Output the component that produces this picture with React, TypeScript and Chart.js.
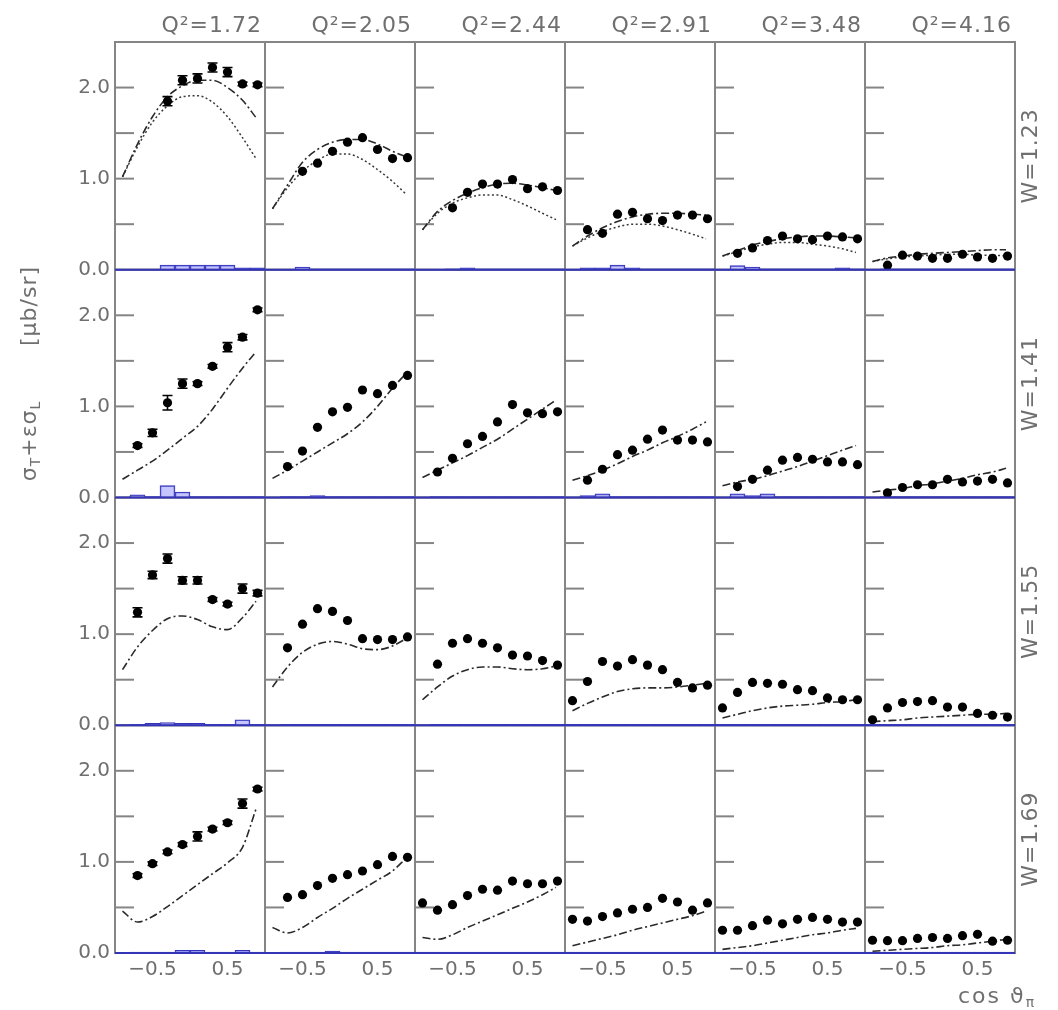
import { useEffect, useRef } from 'react';
import { Chart, registerables } from 'chart.js';

Chart.register(...registerables);

// ---------- axes / categories ----------
const Q2_VALUES = [1.72, 2.05, 2.44, 2.91, 3.48, 4.16];
const W_VALUES = [1.23, 1.41, 1.55, 1.69];
const COS_BINS = [-0.9, -0.7, -0.5, -0.3, -0.1, 0.1, 0.3, 0.5, 0.7, 0.9];
const CURVE_COS = [-0.9, -0.7, -0.5, -0.3, -0.1, 0.1, 0.3, 0.5, 0.7, 0.88];
const X_TICK_VALUES = [-0.5, 0.5];
const Y_TICK_MARKS = [0.5, 1.0, 1.5, 2.0];
const X_RANGE = [-1, 1];
const Y_RANGE = [0, 2.5];

// ---------- measured cross sections (one array per Q2 column) ----------
const SIGMA_W123 = [
  [null, null, null, 1.85, 2.08, 2.10, 2.22, 2.17, 2.04, 2.03],
  [null, null, 1.08, 1.17, 1.30, 1.40, 1.45, 1.32, 1.22, 1.23],
  [null, null, 0.68, 0.85, 0.94, 0.94, 0.99, 0.89, 0.91, 0.87],
  [null, 0.44, 0.40, 0.61, 0.63, 0.56, 0.54, 0.60, 0.60, 0.56],
  [null, 0.18, 0.24, 0.32, 0.37, 0.34, 0.33, 0.37, 0.36, 0.34],
  [null, 0.05, 0.16, 0.15, 0.125, 0.125, 0.17, 0.14, 0.125, 0.15],
];
const SIGMA_W141 = [
  [null, 0.57, 0.71, 1.04, 1.25, 1.25, 1.44, 1.65, 1.76, 2.06],
  [null, 0.34, 0.51, 0.77, 0.94, 0.99, 1.18, 1.14, 1.23, 1.34],
  [null, 0.28, 0.43, 0.59, 0.67, 0.83, 1.02, 0.93, 0.92, 0.94],
  [null, 0.19, 0.31, 0.47, 0.52, 0.64, 0.74, 0.63, 0.63, 0.61],
  [null, 0.12, 0.20, 0.30, 0.41, 0.44, 0.42, 0.39, 0.39, 0.36],
  [null, 0.05, 0.11, 0.14, 0.14, 0.20, 0.17, 0.18, 0.20, 0.16],
];
const SIGMA_W155 = [
  [null, 1.24, 1.65, 1.83, 1.59, 1.59, 1.38, 1.33, 1.50, 1.45],
  [null, 0.85, 1.11, 1.28, 1.25, 1.15, 0.95, 0.94, 0.94, 0.97],
  [null, 0.67, 0.90, 0.95, 0.90, 0.85, 0.77, 0.76, 0.71, 0.66],
  [0.27, 0.48, 0.70, 0.65, 0.72, 0.66, 0.61, 0.47, 0.41, 0.44],
  [0.19, 0.36, 0.47, 0.46, 0.45, 0.39, 0.38, 0.30, 0.28, 0.28],
  [0.06, 0.19, 0.25, 0.26, 0.27, 0.20, 0.20, 0.13, 0.11, 0.09],
];
const SIGMA_W169 = [
  [null, 0.85, 0.98, 1.11, 1.19, 1.28, 1.36, 1.43, 1.64, 1.80],
  [null, 0.61, 0.64, 0.74, 0.82, 0.86, 0.90, 0.97, 1.06, 1.05],
  [0.55, 0.47, 0.53, 0.63, 0.70, 0.69, 0.79, 0.76, 0.76, 0.79],
  [0.37, 0.35, 0.40, 0.44, 0.48, 0.50, 0.60, 0.56, 0.47, 0.55],
  [0.25, 0.25, 0.30, 0.36, 0.32, 0.37, 0.39, 0.37, 0.34, 0.34],
  [0.14, 0.135, 0.135, 0.16, 0.17, 0.16, 0.19, 0.205, 0.13, 0.14],
];

// statistical errors visible in the Q2=1.72 column (one row per W)
const ERR_Q172 = [
  [0, 0, 0, 0.05, 0.05, 0.05, 0.05, 0.05, 0.02, 0.02],
  [0, 0.02, 0.04, 0.08, 0.05, 0.02, 0.02, 0.05, 0.03, 0.02],
  [0, 0.05, 0.04, 0.05, 0.04, 0.04, 0.02, 0.02, 0.05, 0.03],
  [0, 0.02, 0.02, 0.02, 0.02, 0.05, 0.02, 0.02, 0.05, 0.02],
];

// ---------- model curves (dash-dot), sampled at CURVE_COS ----------
const MODEL_W123 = [
  [1.02, 1.38, 1.68, 1.90, 2.02, 2.08, 2.08, 2.00, 1.86, 1.67],
  [0.67, 0.93, 1.18, 1.32, 1.40, 1.43, 1.43, 1.38, 1.30, 1.24],
  [0.44, 0.64, 0.76, 0.84, 0.90, 0.94, 0.95, 0.93, 0.90, 0.87],
  [0.26, 0.37, 0.46, 0.53, 0.58, 0.61, 0.62, 0.62, 0.61, 0.60],
  [0.15, 0.21, 0.27, 0.31, 0.34, 0.36, 0.37, 0.37, 0.36, 0.35],
  [0.09, 0.13, 0.15, 0.17, 0.18, 0.19, 0.20, 0.21, 0.22, 0.22],
];
const MODEL_W141 = [
  [0.20, 0.30, 0.40, 0.52, 0.65, 0.78, 0.97, 1.20, 1.42, 1.60],
  [0.21, 0.30, 0.40, 0.50, 0.60, 0.70, 0.83, 1.00, 1.20, 1.36],
  [0.22, 0.30, 0.38, 0.46, 0.55, 0.64, 0.75, 0.86, 0.97, 1.07],
  [0.19, 0.24, 0.30, 0.37, 0.45, 0.52, 0.60, 0.67, 0.75, 0.83],
  [0.13, 0.17, 0.20, 0.24, 0.29, 0.34, 0.40, 0.46, 0.52, 0.57],
  [0.06, 0.08, 0.10, 0.13, 0.15, 0.18, 0.21, 0.25, 0.28, 0.32],
];
const MODEL_W155 = [
  [0.61, 0.86, 1.04, 1.17, 1.20, 1.16, 1.08, 1.05, 1.18, 1.36],
  [0.42, 0.64, 0.80, 0.89, 0.92, 0.89, 0.84, 0.83, 0.87, 0.95],
  [0.28, 0.42, 0.54, 0.61, 0.64, 0.64, 0.62, 0.61, 0.62, 0.65],
  [0.16, 0.24, 0.31, 0.37, 0.40, 0.41, 0.41, 0.42, 0.44, 0.46],
  [0.08, 0.12, 0.16, 0.19, 0.21, 0.22, 0.23, 0.25, 0.26, 0.28],
  [0.04, 0.05, 0.06, 0.08, 0.09, 0.10, 0.11, 0.12, 0.12, 0.13],
];
const MODEL_W169 = [
  [0.46, 0.34, 0.40, 0.51, 0.63, 0.75, 0.87, 0.99, 1.16, 1.58],
  [0.28, 0.22, 0.28, 0.39, 0.49, 0.60, 0.70, 0.80, 0.90, 1.04],
  [0.17, 0.15, 0.20, 0.28, 0.35, 0.42, 0.49, 0.56, 0.64, 0.72],
  [0.08, 0.12, 0.16, 0.20, 0.25, 0.29, 0.33, 0.37, 0.41, 0.46],
  [0.04, 0.06, 0.08, 0.11, 0.14, 0.17, 0.20, 0.22, 0.25, 0.27],
  [0.02, 0.03, 0.04, 0.05, 0.06, 0.08, 0.09, 0.11, 0.13, 0.15],
];
// second model (dotted), only drawn for W=1.23
const MODEL2_W123 = [
  [1.02, 1.35, 1.62, 1.80, 1.90, 1.91, 1.84, 1.68, 1.45, 1.22],
  [0.67, 0.90, 1.08, 1.20, 1.27, 1.27, 1.21, 1.10, 0.97, 0.83],
  [0.44, 0.62, 0.73, 0.79, 0.82, 0.82, 0.77, 0.70, 0.62, 0.55],
  [0.26, 0.35, 0.42, 0.47, 0.50, 0.50, 0.48, 0.44, 0.39, 0.34],
  [0.15, 0.20, 0.25, 0.28, 0.30, 0.30, 0.28, 0.26, 0.23, 0.19],
  [0.09, 0.12, 0.14, 0.15, 0.16, 0.17, 0.17, 0.16, 0.16, 0.15],
];

// ---------- systematic uncertainties (blue histograms) ----------
const SYST_W123 = [
  [null, null, null, 0.05, 0.05, 0.05, 0.05, 0.05, 0.02, 0.02],
  [null, null, 0.03, 0.01, 0.01, 0.01, 0.01, 0.01, 0.01, 0.01],
  [null, null, 0.01, 0.02, 0.01, 0.01, 0.01, 0.01, 0.01, 0.01],
  [null, 0.02, 0.02, 0.05, 0.02, 0.01, 0.01, 0.01, 0.01, 0.01],
  [null, 0.045, 0.03, 0.01, 0.01, 0.01, 0.01, 0.01, 0.02, 0.01],
  [null, 0.01, 0.01, 0.01, 0.01, 0.01, 0.01, 0.01, 0.01, 0.01],
];
const SYST_W141 = [
  [null, 0.03, 0.01, 0.13, 0.06, 0.01, 0.01, 0.01, 0.01, 0.01],
  [null, 0.01, 0.01, 0.02, 0.01, 0.01, 0.01, 0.01, 0.01, 0.01],
  [null, 0.01, 0.01, 0.01, 0.01, 0.01, 0.01, 0.01, 0.01, 0.01],
  [null, 0.02, 0.04, 0.01, 0.01, 0.01, 0.01, 0.01, 0.01, 0.01],
  [null, 0.04, 0.02, 0.04, 0.01, 0.01, 0.01, 0.01, 0.01, 0.01],
  [null, 0.01, 0.01, 0.01, 0.01, 0.01, 0.01, 0.01, 0.01, 0.01],
];
const SYST_W155 = [
  [null, 0.01, 0.02, 0.03, 0.02, 0.02, 0.01, 0.01, 0.06, 0.01],
  [null, 0.01, 0.01, 0.01, 0.01, 0.01, 0.01, 0.01, 0.01, 0.01],
  [null, 0.01, 0.01, 0.01, 0.01, 0.01, 0.01, 0.01, 0.01, 0.01],
  [0.01, 0.01, 0.01, 0.01, 0.01, 0.01, 0.01, 0.01, 0.01, 0.01],
  [0.01, 0.01, 0.01, 0.01, 0.01, 0.01, 0.01, 0.01, 0.01, 0.01],
  [0.01, 0.01, 0.01, 0.01, 0.01, 0.01, 0.01, 0.01, 0.01, 0.01],
];
const SYST_W169 = [
  [null, 0.01, 0.01, 0.01, 0.03, 0.03, 0.01, 0.01, 0.03, 0.01],
  [null, 0.01, 0.01, 0.01, 0.02, 0.01, 0.01, 0.01, 0.01, 0.01],
  [0.01, 0.01, 0.01, 0.01, 0.01, 0.01, 0.01, 0.01, 0.01, 0.01],
  [0.01, 0.01, 0.01, 0.01, 0.01, 0.01, 0.01, 0.01, 0.01, 0.01],
  [0.01, 0.01, 0.01, 0.01, 0.01, 0.01, 0.01, 0.01, 0.01, 0.01],
  [0.01, 0.01, 0.01, 0.01, 0.01, 0.01, 0.01, 0.01, 0.01, 0.01],
];

const SIGMA = [SIGMA_W123, SIGMA_W141, SIGMA_W155, SIGMA_W169];
const MODEL = [MODEL_W123, MODEL_W141, MODEL_W155, MODEL_W169];
const SYST = [SYST_W123, SYST_W141, SYST_W155, SYST_W169];

// ---------- styling ----------
const FONT = '"DejaVu Sans", "Liberation Sans", sans-serif';
const TEXT_GRAY = '#6f6f6f';
const FRAME_GRAY = '#858585';
const BLUE = '#3434b8';

function fmtY(v: number) {
  return Math.abs(v - Math.round(v)) < 1e-6 ? Number(v).toFixed(1) : '';
}
function fmtX(v: number) {
  return v < 0 ? '\u2212' + Math.abs(v).toFixed(1) : v.toFixed(1);
}

function buildDatasets() {
  const ds: any[] = [];
  W_VALUES.forEach((_, r) => {
    Q2_VALUES.forEach((__, c) => {
      const xAxisID = 'x' + c;
      const yAxisID = 'y' + r;
      const pts = COS_BINS.map((x, i) => ({ x, y: SIGMA[r][c][i] })).filter((p) => p.y !== null);
      ds.push({
        type: 'scatter', xAxisID, yAxisID, data: pts, order: 0,
        pointRadius: 4.6, pointHoverRadius: 4.6, pointBackgroundColor: '#000',
        pointBorderWidth: 0, showLine: false,
      });
      ds.push({
        type: 'line', xAxisID, yAxisID, order: 1,
        data: CURVE_COS.map((x, i) => ({ x, y: MODEL[r][c][i] })),
        borderColor: '#2a2a2a', borderWidth: 1.6, borderDash: [8, 3, 2, 3],
        pointRadius: 0, cubicInterpolationMode: 'monotone', fill: false,
      });
      if (r === 0) {
        ds.push({
          type: 'line', xAxisID, yAxisID, order: 1,
          data: CURVE_COS.map((x, i) => ({ x, y: MODEL2_W123[c][i] })),
          borderColor: '#3a3a3a', borderWidth: 1.5, borderDash: [2, 2.5],
          pointRadius: 0, cubicInterpolationMode: 'monotone', fill: false,
        });
      }
      const bars = COS_BINS.map((x, i) => ({ x, y: SYST[r][c][i] })).filter((p) => p.y !== null);
      ds.push({
        type: 'bar', xAxisID, yAxisID, order: 2, data: bars,
        grouped: false, barPercentage: 1, categoryPercentage: 1,
        backgroundColor: 'rgba(150,150,255,0.55)', borderColor: BLUE, borderWidth: 1,
      });
    });
  });
  return ds;
}

function buildScales() {
  const scales: any = {};
  Q2_VALUES.forEach((_, c) => {
    scales['x' + c] = {
      type: 'linear', axis: 'x', position: 'bottom', stack: 'cols', stackWeight: 1,
      min: X_RANGE[0], max: X_RANGE[1], offset: false,
      grid: { display: false, drawTicks: false, offset: false },
      border: { display: false },
      afterBuildTicks: (s: any) => { s.ticks = X_TICK_VALUES.map((value) => ({ value })); },
      afterFit: (s: any) => { s.height = 57; },
      ticks: {
        autoSkip: false, maxRotation: 0, minRotation: 0, padding: 5,
        color: TEXT_GRAY, font: { family: FONT, size: 20 },
        callback: (v: any) => fmtX(Number(v)),
      },
    };
  });
  W_VALUES.forEach((_, r) => {
    scales['y' + r] = {
      type: 'linear', axis: 'y', position: 'left', stack: 'rows', stackWeight: 1,
      weight: W_VALUES.length - r,
      min: Y_RANGE[0], max: Y_RANGE[1],
      grid: { display: false, drawTicks: false },
      border: { display: false },
      afterFit: (s: any) => { s.width = 115; },
      ticks: {
        stepSize: 0.5, autoSkip: false, padding: 5,
        color: TEXT_GRAY, font: { family: FONT, size: 20 },
        callback: (v: any) => fmtY(Number(v)),
      },
    };
  });
  return scales;
}

const panelPlugin = {
  id: 'panelPlugin',
  beforeDatasetsDraw(chart: any) {
    const ctx = chart.ctx;
    ctx.save();
    ctx.strokeStyle = FRAME_GRAY;
    ctx.lineWidth = 2;
    W_VALUES.forEach((_, r) => {
      const ys = chart.scales['y' + r];
      Q2_VALUES.forEach((__, c) => {
        const xs = chart.scales['x' + c];
        const l = xs.getPixelForValue(X_RANGE[0]);
        const rt = xs.getPixelForValue(X_RANGE[1]);
        const t = ys.getPixelForValue(Y_RANGE[1]);
        const b = ys.getPixelForValue(Y_RANGE[0]);
        ctx.strokeRect(l, t, rt - l, b - t);
        Y_TICK_MARKS.forEach((v) => {
          const y = ys.getPixelForValue(v);
          ctx.beginPath();
          ctx.moveTo(l, y);
          ctx.lineTo(l + 19, y);
          ctx.stroke();
        });
      });
    });
    ctx.restore();
  },
  afterDatasetsDraw(chart: any) {
    const ctx = chart.ctx;
    ctx.save();
    // blue baselines
    ctx.strokeStyle = BLUE;
    ctx.lineWidth = 2;
    W_VALUES.forEach((_, r) => {
      const ys = chart.scales['y' + r];
      const y = ys.getPixelForValue(0);
      Q2_VALUES.forEach((__, c) => {
        const xs = chart.scales['x' + c];
        ctx.beginPath();
        ctx.moveTo(xs.getPixelForValue(X_RANGE[0]), y);
        ctx.lineTo(xs.getPixelForValue(X_RANGE[1]), y);
        ctx.stroke();
      });
    });
    // error bars, Q2 = 1.72 column
    ctx.strokeStyle = '#000';
    ctx.lineWidth = 1.6;
    const xs0 = chart.scales['x0'];
    W_VALUES.forEach((_, r) => {
      const ys = chart.scales['y' + r];
      COS_BINS.forEach((x, i) => {
        const v = SIGMA[r][0][i];
        const e = ERR_Q172[r][i];
        if (v === null || !e) return;
        const px = xs0.getPixelForValue(x);
        const y1 = ys.getPixelForValue(v - e);
        const y2 = ys.getPixelForValue(v + e);
        ctx.beginPath();
        ctx.moveTo(px, y1); ctx.lineTo(px, y2);
        ctx.moveTo(px - 5, y1); ctx.lineTo(px + 5, y1);
        ctx.moveTo(px - 5, y2); ctx.lineTo(px + 5, y2);
        ctx.stroke();
      });
    });
    ctx.restore();
  },
  afterDraw(chart: any) {
    const ctx = chart.ctx;
    ctx.save();
    ctx.fillStyle = TEXT_GRAY;
    (ctx as any).letterSpacing = '1px';
    // Q2 titles
    ctx.font = `22px ${FONT}`;
    ctx.textAlign = 'right';
    ctx.textBaseline = 'alphabetic';
    Q2_VALUES.forEach((q, c) => {
      const xs = chart.scales['x' + c];
      ctx.fillText(`Q\u00B2=${q.toFixed(2)}`, xs.getPixelForValue(X_RANGE[1]) - 3, 32);
    });
    // W labels (rotated)
    ctx.textAlign = 'center';
    ctx.textBaseline = 'middle';
    W_VALUES.forEach((w, r) => {
      const ys = chart.scales['y' + r];
      const cy = (ys.top + ys.bottom) / 2;
      ctx.save();
      ctx.translate(1031, cy);
      ctx.rotate(-Math.PI / 2);
      ctx.fillText(`W=${w.toFixed(2)}`, 0, 0);
      ctx.restore();
    });
    // y axis title
    const drawRuns = (runs: { t: string; sub?: boolean }[], cx: number, cy: number) => {
      ctx.save();
      ctx.translate(cx, cy);
      ctx.rotate(-Math.PI / 2);
      ctx.textAlign = 'left';
      ctx.textBaseline = 'alphabetic';
      let total = 0;
      runs.forEach((run) => {
        ctx.font = `${run.sub ? 14 : 22}px ${FONT}`;
        total += ctx.measureText(run.t).width;
      });
      let x = -total / 2;
      runs.forEach((run) => {
        ctx.font = `${run.sub ? 14 : 22}px ${FONT}`;
        ctx.fillText(run.t, x, run.sub ? 11 : 7);
        x += ctx.measureText(run.t).width;
      });
      ctx.restore();
    };
    drawRuns([{ t: '\u03C3' }, { t: 'T', sub: true }, { t: '+\u03B5\u03C3' }, { t: 'L', sub: true }], 29, 441);
    drawRuns([{ t: '[\u03BCb/sr]' }], 29, 306);
    // x axis title
    ctx.textAlign = 'left';
    ctx.textBaseline = 'alphabetic';
    ctx.font = `22px ${FONT}`;
    (ctx as any).letterSpacing = '2px';
    const t1 = 'cos \u03D1';
    ctx.fillText(t1, 958, 1003);
    const w1 = ctx.measureText(t1).width;
    ctx.font = `14px ${FONT}`;
    (ctx as any).letterSpacing = '0px';
    ctx.fillText('\u03C0', 958 + w1, 1007);
    ctx.restore();
  },
};

export default function App() {
  const ref = useRef<HTMLCanvasElement | null>(null);
  useEffect(() => {
    if (!ref.current) return;
    const chart = new Chart(ref.current, {
      type: 'scatter',
      data: { datasets: buildDatasets() },
      options: {
        responsive: false,
        animation: false,
        events: [],
        layout: { padding: { left: 0, top: 42, right: 43, bottom: 0 } },
        plugins: { legend: { display: false }, tooltip: { enabled: false } },
        scales: buildScales(),
      } as any,
      plugins: [panelPlugin],
    } as any);
    return () => chart.destroy();
  }, []);
  return (
    <div style={{ position: 'absolute', left: 0, top: 0, width: 1058, height: 1010, background: '#fff' }}>
      <canvas ref={ref} width={1058} height={1010} style={{ display: 'block' }} />
    </div>
  );
}
